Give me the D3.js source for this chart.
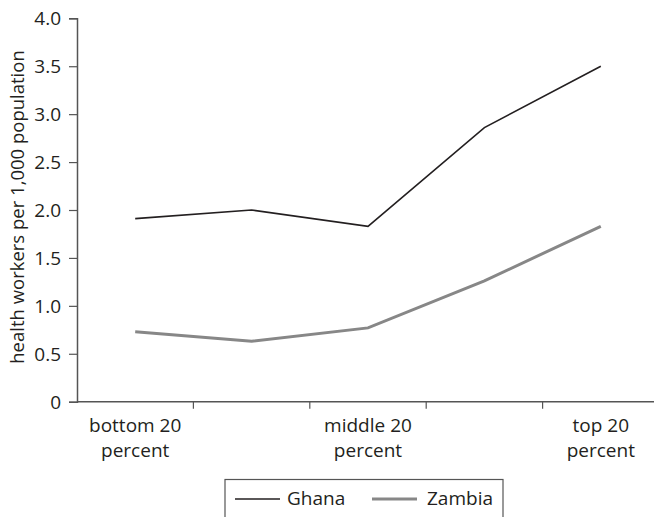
<!DOCTYPE html>
<html>
<head>
<meta charset="utf-8">
<script src="https://cdn.jsdelivr.net/npm/d3@7"></script>
<style>
  body { margin: 0; background: #fff; }
  text { font-family: "Open Sans", "Noto Sans", sans-serif; fill: #231f20; }
</style>
</head>
<body>
<script>
const categories = ["bottom 20 percent", "q2", "middle 20 percent", "q4", "top 20 percent"];
const tickLabels = [["bottom 20", "percent"], [], ["middle 20", "percent"], [], ["top 20", "percent"]];
const ghana = [1.91, 2.0, 1.83, 2.86, 3.5];
const zambia = [0.73, 0.63, 0.77, 1.26, 1.83];
const yTicks = [0, 0.5, 1.0, 1.5, 2.0, 2.5, 3.0, 3.5, 4.0];

const w = 654, h = 517;
const padLeft = 77, padRight = 659, padTop = 18.3, padBottom = 401.7;
const fs = "19px";

const svg = d3.select("body").append("svg")
  .attr("width", w)
  .attr("height", h);

const xScale = d3.scaleBand().domain(categories).range([padLeft, padRight]);
const yScale = d3.scaleLinear().domain([0, 4]).range([padBottom, padTop]);

// y axis
const yAxis = d3.axisLeft(yScale).tickValues(yTicks)
  .tickFormat(d => d === 0 ? "0" : d3.format(".1f")(d))
  .tickSize(8).tickPadding(8);
const gy = svg.append("g").attr("transform", "translate(" + padLeft + ",0)").call(yAxis);
gy.select(".domain").attr("stroke", "#555").attr("stroke-width", 1.5);
gy.selectAll(".tick line").attr("stroke", "#555").attr("stroke-width", 1.2);
gy.selectAll(".tick text").style("font-size", fs).attr("fill", "#231f20").attr("dy", "0.34em");

// x axis: ticks on band boundaries
const boundaries = categories.map(c => xScale(c)).concat([padRight]);
svg.append("line")
  .attr("x1", padLeft).attr("x2", padRight)
  .attr("y1", padBottom).attr("y2", padBottom)
  .attr("stroke", "#555").attr("stroke-width", 1.5);
svg.selectAll(".xtick").data(boundaries.slice(1)).enter().append("line")
  .attr("class", "xtick")
  .attr("x1", d => d).attr("x2", d => d)
  .attr("y1", padBottom).attr("y2", padBottom + 7)
  .attr("stroke", "#555").attr("stroke-width", 1.2);

const xl = svg.selectAll(".xlabel").data(categories).enter().append("text")
  .attr("class", "xlabel")
  .attr("text-anchor", "middle")
  .attr("x", d => xScale(d) + xScale.bandwidth() / 2)
  .attr("y", 432)
  .style("font-size", fs);
xl.each(function(d, i) {
  const t = d3.select(this);
  tickLabels[i].forEach((line, j) => {
    t.append("tspan")
      .attr("x", xScale(d) + xScale.bandwidth() / 2)
      .attr("dy", j === 0 ? 0 : 24.5)
      .text(line);
  });
});

// y axis title
svg.append("text")
  .attr("transform", "translate(24,207) rotate(-90)")
  .attr("text-anchor", "middle")
  .style("font-size", "18.5px")
  .text("health workers per 1,000 population");

// lines
const line = d3.line()
  .x((d, i) => xScale(categories[i]) + xScale.bandwidth() / 2)
  .y(d => yScale(d));

svg.append("path").datum(zambia)
  .attr("d", line)
  .attr("fill", "none")
  .attr("stroke", "#878787")
  .attr("stroke-width", 3);

svg.append("path").datum(ghana)
  .attr("d", line)
  .attr("fill", "none")
  .attr("stroke", "#231f20")
  .attr("stroke-width", 1.6);

// legend
const legend = svg.append("g");
legend.append("rect")
  .attr("x", 225).attr("y", 479.5)
  .attr("width", 278).attr("height", 50)
  .attr("fill", "none").attr("stroke", "#555").attr("stroke-width", 1.2);
legend.append("line")
  .attr("x1", 235).attr("x2", 280).attr("y1", 499).attr("y2", 499)
  .attr("stroke", "#231f20").attr("stroke-width", 1.6);
legend.append("text").attr("x", 287).attr("y", 505)
  .style("font-size", fs).text("Ghana");
legend.append("line")
  .attr("x1", 372).attr("x2", 417).attr("y1", 499).attr("y2", 499)
  .attr("stroke", "#878787").attr("stroke-width", 3);
legend.append("text").attr("x", 427).attr("y", 505)
  .style("font-size", fs).text("Zambia");
</script>
</body>
</html>
